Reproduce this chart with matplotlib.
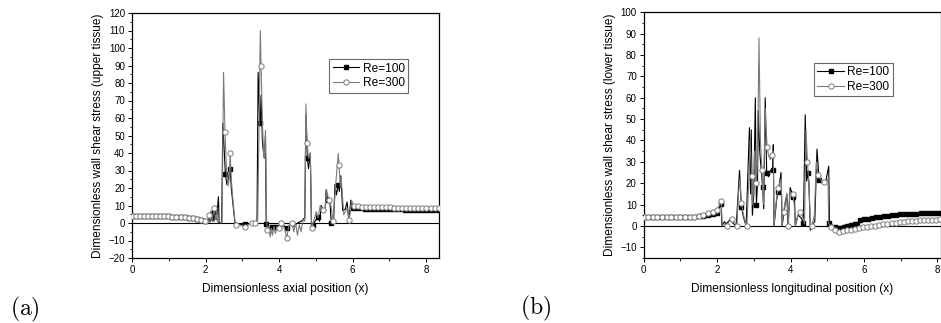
import numpy as np
import matplotlib
matplotlib.use("Agg")
import matplotlib.pyplot as plt
from matplotlib.lines import Line2D
from matplotlib.ticker import MultipleLocator

plt.rcParams['font.family'] = ['Liberation Sans', 'DejaVu Sans']
plt.rcParams['mathtext.fontset'] = 'cm'

# ---------------- Panel (a): upper tissue ----------------
a100_x = [0.00, 0.11, 0.22, 0.33, 0.44, 0.55, 0.66, 0.77, 0.88, 0.99, 1.10, 1.21, 1.32, 1.43, 1.54, 1.65, 1.76, 1.87, 1.98,
          2.05, 2.10, 2.12, 2.15, 2.18, 2.20, 2.23, 2.26, 2.30, 2.35, 2.37, 2.44, 2.47, 2.50, 2.54, 2.58, 2.62, 2.67, 2.70, 2.75, 2.80,
          2.90, 3.00, 3.08, 3.20, 3.30, 3.40, 3.43, 3.47, 3.49, 3.51, 3.55, 3.60, 3.63, 3.65, 3.70, 3.75, 3.80, 3.85, 3.90, 3.95, 4.00,
          4.10, 4.21, 4.30, 4.40, 4.50, 4.60, 4.70, 4.73, 4.77, 4.80, 4.85, 4.88, 4.92, 4.98, 5.05, 5.10, 5.15, 5.20, 5.25, 5.28, 5.33,
          5.38, 5.42, 5.48, 5.52, 5.56, 5.61, 5.64, 5.68, 5.73, 5.80, 5.85, 5.90, 5.95,
          6.00, 6.11, 6.22, 6.33, 6.44, 6.55, 6.66, 6.77, 6.88, 6.99, 7.10, 7.21, 7.32, 7.43, 7.54, 7.65, 7.76, 7.87, 7.98, 8.09, 8.20, 8.31]
a100_y = [4.0, 4.0, 4.0, 4.0, 4.0, 4.0, 3.9, 3.9, 3.8, 3.8, 3.7, 3.6, 3.5, 3.3, 3.1, 2.8, 2.4, 1.9, 1.2,
          1.0, 3.0, 0.5, 6.0, 1.0, 6.0, 1.0, 7.0, 2.0, 15.0, 0.0, 0.5, 57.0, 45.0, 28.0, 22.0, 25.0, 31.0, 20.0, 10.0, 0.0,
          -0.5, -1.0, -0.8, -0.5, 0.0, 1.0, 86.0, 60.0, 57.0, 73.0, 45.0, 37.0, 50.0, -0.8, -2.0, -3.0, -2.0, -2.5, -2.5, -2.0, -2.5,
          -1.0, -2.9, -1.0, -2.0, 0.0, 1.0, 3.0, 62.0, 37.0, 31.0, 40.0, 0.0, -1.0, 1.0, 3.2, 1.0, 10.0, 7.0, 6.0, 19.0, 13.0,
          13.0, 0.0, 0.0, 22.0, 16.0, 22.0, 18.0, 27.0, 7.0, 8.0, 12.0, 1.0, 13.0,
          8.5, 8.4, 8.3, 8.2, 8.1, 8.1, 8.0, 8.0, 7.9, 7.9, 7.8, 7.8, 7.8, 7.7, 7.7, 7.7, 7.6, 7.6, 7.6, 7.5, 7.5, 7.5]
a100_marked = [2.20, 2.54, 2.67, 3.08, 3.49, 3.65, 3.80, 3.90, 4.00, 4.21, 4.77, 4.92, 5.05, 5.33, 5.42, 5.61]

a300_x = [0.00, 0.11, 0.22, 0.33, 0.44, 0.55, 0.66, 0.77, 0.88, 0.99, 1.10, 1.21, 1.32, 1.43, 1.54, 1.65, 1.76, 1.87, 1.98,
          2.05, 2.08, 2.10, 2.13, 2.15, 2.18, 2.24, 2.27, 2.30, 2.33, 2.36, 2.42, 2.45, 2.49, 2.53, 2.57, 2.61, 2.64, 2.67, 2.70,
          2.75, 2.80, 2.83, 2.90, 2.98, 3.08, 3.15, 3.27, 3.35, 3.42, 3.49, 3.51, 3.55, 3.58, 3.60, 3.63, 3.66, 3.68, 3.72, 3.76,
          3.79, 3.82, 3.86, 3.90, 3.95, 3.99, 4.06, 4.10, 4.15, 4.21, 4.26, 4.35, 4.40, 4.45, 4.50, 4.55, 4.60, 4.65, 4.70, 4.73,
          4.76, 4.80, 4.85, 4.88, 4.90, 4.94, 5.01, 5.06, 5.12, 5.20, 5.25, 5.29, 5.35, 5.41, 5.47, 5.55, 5.61, 5.63, 5.67, 5.69,
          5.76, 5.85, 5.91, 5.97,
          6.03, 6.14, 6.25, 6.36, 6.47, 6.58, 6.69, 6.80, 6.91, 7.02, 7.13, 7.24, 7.35, 7.46, 7.57, 7.68, 7.79, 7.90, 8.01, 8.12, 8.23, 8.34]
a300_y = [4.0, 4.0, 4.0, 4.0, 4.0, 4.0, 3.9, 3.9, 3.8, 3.8, 3.7, 3.6, 3.5, 3.3, 3.1, 2.8, 2.4, 1.9, 1.2,
          0.5, 3.0, 4.5, 1.0, 7.0, 2.0, 8.5, 2.0, 5.0, 0.0, 1.0, 0.0, 0.5, 86.0, 52.0, 30.0, 21.0, 25.0, 40.0, 25.0,
          12.0, 1.0, -1.3, -1.0, -1.5, -2.5, -1.0, 0.0, 0.0, 2.0, 110.0, 90.0, 55.0, 40.0, 37.0, 53.0, 2.0, -3.8, -2.0, -8.0,
          -3.0, -7.0, -2.0, -6.0, -2.0, -3.0, 0.0, -2.0, -3.0, -8.6, -2.0, 0.0, -5.0, 0.0, -7.0, -1.0, -5.0, 2.0, 1.0, 68.0,
          46.0, 37.0, 40.0, 2.0, -3.0, 1.0, 6.5, 3.0, 10.0, 7.4, 6.0, 19.0, 13.3, 10.0, 1.0, 24.7, 39.8, 33.0, 20.0, 26.0,
          4.7, 8.5, 1.9, 13.0,
          9.8, 9.6, 9.4, 9.3, 9.2, 9.1, 9.0, 9.0, 8.9, 8.9, 8.8, 8.8, 8.7, 8.7, 8.7, 8.6, 8.6, 8.6, 8.5, 8.5, 8.5, 8.5]
a300_marked = [2.10, 2.24, 2.53, 2.67, 2.83, 3.08, 3.27, 3.35, 3.51, 3.68, 3.99, 4.06, 4.21, 4.35, 4.76, 4.90, 5.20, 5.35,
               5.47, 5.63, 5.91]

# ---------------- Panel (b): lower tissue ----------------
b100_x = [0.000, 0.125, 0.250, 0.375, 0.500, 0.625, 0.750, 0.875, 1.000, 1.125, 1.250, 1.375, 1.500, 1.625, 1.750, 1.875, 2.000,
          2.11, 2.13, 2.20, 2.25, 2.35, 2.45, 2.52, 2.61, 2.66, 2.72, 2.79, 2.88, 2.91, 2.93, 2.96, 3.00, 3.04, 3.07, 3.10, 3.12,
          3.16, 3.24, 3.27, 3.31, 3.35, 3.40, 3.45, 3.51, 3.53, 3.55, 3.62, 3.66, 3.70, 3.74, 3.77, 3.85, 3.90, 3.93, 3.99, 4.08,
          4.11, 4.13, 4.20, 4.28, 4.35, 4.40, 4.44, 4.47, 4.50, 4.54, 4.60, 4.66, 4.72, 4.78, 4.85, 4.95, 5.04, 5.06,
          5.20, 5.30, 5.37, 5.45, 5.55, 5.65, 5.76, 5.82,
          5.89, 6.00, 6.11, 6.22, 6.33, 6.44, 6.55, 6.66, 6.77, 6.88, 6.99, 7.10, 7.21, 7.32, 7.43, 7.54, 7.65, 7.76, 7.87, 7.98, 8.09]
b100_y = [4.0, 4.0, 4.0, 4.0, 4.0, 4.0, 4.0, 4.0, 4.0, 4.0, 4.1, 4.2, 4.5, 4.8, 5.2, 5.6, 6.2,
          10.3, 0.0, 2.0, 1.0, 3.0, 1.0, 0.0, 26.0, 9.0, 4.0, 0.0, 46.0, 15.0, 45.0, 5.0, 15.0, 60.0, 10.0, 20.0, 54.0,
          35.0, 18.0, 8.0, 60.0, 25.0, 23.0, 26.0, 26.0, 38.0, 0.0, 12.0, 16.0, 20.0, 25.0, 0.0, 10.0, 15.0, 0.0, 18.0, 13.4,
          12.0, 0.0, 5.0, 4.0, 1.5, 52.0, 21.0, 25.0, 20.0, -2.0, 1.0, 2.0, 36.0, 21.5, 20.5, 20.0, 28.0, 1.2,
          -0.3, -0.9, -1.1, -0.5, 0.2, 0.5, 0.8, 1.0,
          2.8, 3.1, 3.4, 3.7, 4.0, 4.3, 4.6, 4.8, 5.0, 5.2, 5.4, 5.5, 5.6, 5.7, 5.8, 5.9, 6.0, 6.1, 6.1, 6.2, 6.2]
b100_marked = [2.11, 2.66, 3.07, 3.24, 3.35, 3.51, 3.66, 4.08, 4.35, 4.47, 4.78, 5.06]

b300_x = [0.000, 0.125, 0.250, 0.375, 0.500, 0.625, 0.750, 0.875, 1.000, 1.125, 1.250, 1.375, 1.500, 1.625, 1.750, 1.875, 2.000,
          2.11, 2.14, 2.20, 2.26, 2.32, 2.40, 2.47, 2.54, 2.58, 2.62, 2.66, 2.72, 2.78, 2.81, 2.86, 2.90, 2.94, 2.97, 3.02, 3.06,
          3.10, 3.14, 3.18, 3.22, 3.26, 3.31, 3.36, 3.40, 3.45, 3.50, 3.53, 3.55, 3.60, 3.66, 3.70, 3.75, 3.77, 3.81, 3.86, 3.90,
          3.94, 3.98, 4.06, 4.10, 4.13, 4.20, 4.27, 4.32, 4.38, 4.42, 4.46, 4.50, 4.54, 4.58, 4.65, 4.70, 4.75, 4.85, 4.90,
          4.98, 5.02, 5.04,
          5.10, 5.21, 5.32, 5.43, 5.54, 5.65, 5.76, 5.87, 5.98, 6.09, 6.20, 6.31, 6.42, 6.53, 6.64, 6.75, 6.86, 6.97, 7.08, 7.19,
          7.30, 7.41, 7.52, 7.63, 7.74, 7.85, 7.96, 8.07]
b300_y = [4.0, 4.0, 4.0, 4.0, 4.0, 4.0, 4.0, 4.0, 4.0, 4.1, 4.2, 4.4, 4.8, 5.3, 5.9, 6.5, 7.3,
          11.5, 0.0, 1.0, 0.0, 2.0, 3.3, 2.0, 0.0, 15.0, 22.0, 10.6, 5.0, 1.0, 0.0, 20.0, 40.0, 23.5, 10.0, 35.0, 20.0,
          30.0, 88.0, 40.0, 26.0, 10.0, 55.0, 37.0, 33.0, 31.0, 33.0, 35.0, 0.0, 10.0, 17.6, 20.0, 22.0, 0.0, 6.4, 12.0, 15.0,
          0.0, 16.0, 15.0, 10.0, 0.0, 5.0, 6.7, 5.0, 1.0, 45.0, 30.0, 20.0, 0.0, 0.0, 5.0, 30.0, 24.0, 21.0, 20.5,
          21.0, 22.0, 1.0,
          -0.6, -1.9, -2.6, -2.4, -2.0, -1.7, -1.3, -1.0, -0.7, -0.4, -0.2, 0.1, 0.4, 0.7, 1.0, 1.3, 1.6, 1.8, 2.0, 2.2,
          2.4, 2.5, 2.6, 2.7, 2.8, 2.9, 3.0, 3.1]
b300_marked = [2.11, 2.26, 2.40, 2.54, 2.66, 2.81, 2.94, 3.06, 3.22, 3.36, 3.50, 3.66, 3.81, 3.94, 4.06, 4.27, 4.46,
               4.58, 4.75, 4.90]

BLACK = '#000000'
GREY = '#7a7a7a'


def marks(xs, marked, lo, hi):
    ms = set(marked)
    return [i for i, v in enumerate(xs) if v <= lo or v >= hi or v in ms]


fig = plt.figure(figsize=(9.41, 3.23), dpi=100)
ax1 = fig.add_axes([132 / 941, 65 / 323, 307 / 941, 245 / 323])
ax2 = fig.add_axes([643.7 / 941, 65 / 323, 297 / 941, 245.7 / 323])

specs = [
    (ax1, a100_x, a100_y, a100_marked, a300_x, a300_y, a300_marked, (2.0, 6.0), (2.0, 6.0)),
    (ax2, b100_x, b100_y, b100_marked, b300_x, b300_y, b300_marked, (2.0, 5.1), (2.0, 5.1)),
]

for ax, x1, y1, m1, x3, y3, m3, r1, r3 in specs:
    ax.axhline(0, color='black', lw=0.8, zorder=1)
    ax.plot(x1, y1, color=BLACK, lw=0.8, marker='s', ms=3.2, mfc=BLACK, mec=BLACK,
            markevery=marks(x1, m1, *r1), zorder=3)
    ax.plot(x3, y3, color=GREY, lw=0.8, marker='o', ms=3.8, mfc='white', mec=GREY, mew=0.7,
            markevery=marks(x3, m3, *r3), zorder=4)
    for s in ax.spines.values():
        s.set_linewidth(0.9)
    ax.xaxis.set_major_locator(MultipleLocator(2))
    ax.xaxis.set_minor_locator(MultipleLocator(1))
    ax.yaxis.set_major_locator(MultipleLocator(10))
    ax.yaxis.set_minor_locator(MultipleLocator(5))
    ax.tick_params(which='major', direction='out', length=3, width=0.7, labelsize=7, pad=2)
    ax.tick_params(which='minor', direction='out', length=1.8, width=0.6)
    ax.tick_params(which='both', top=False, right=False)

ax1.set_xlim(0, 8.35)
ax1.set_ylim(-20, 120)
ax2.set_xlim(0, 8.09)
ax2.set_ylim(-15, 100)

ax1.set_xlabel('Dimensionless axial position (x)', fontsize=8.6, labelpad=6)
ax1.set_ylabel('Dimensionless wall shear stress (upper tissue)', fontsize=8.6, labelpad=3)
ax2.set_xlabel('Dimensionless longitudinal position (x)', fontsize=8.6, labelpad=6)
ax2.set_ylabel('Dimensionless wall shear stress (lower tissue)', fontsize=8.6, labelpad=3)

h100 = Line2D([], [], color=BLACK, lw=0.8, marker='s', ms=3.2, mfc=BLACK, mec=BLACK)
h300 = Line2D([], [], color=GREY, lw=0.8, marker='o', ms=3.8, mfc='white', mec=GREY, mew=0.7)
for ax, anchor in [(ax1, (0.642, 0.812)), (ax2, (0.573, 0.794))]:
    leg = ax.legend([h100, h300], ['Re=100', 'Re=300'], loc='upper left', bbox_to_anchor=anchor,
                    fontsize=8.6, frameon=True, fancybox=False, borderaxespad=0, handlelength=2.2,
                    handletextpad=0.3, borderpad=0.3, labelspacing=0.2)
    leg.get_frame().set_edgecolor('#444444')
    leg.get_frame().set_linewidth(0.8)

fig.text(25 / 941, 1 - 309 / 323, r'$\mathrm{(a)}$', fontsize=17, ha='center', va='center')
fig.text(536 / 941, 1 - 308 / 323, r'$\mathrm{(b)}$', fontsize=17, ha='center', va='center')

fig.savefig('out.png', dpi=100)
